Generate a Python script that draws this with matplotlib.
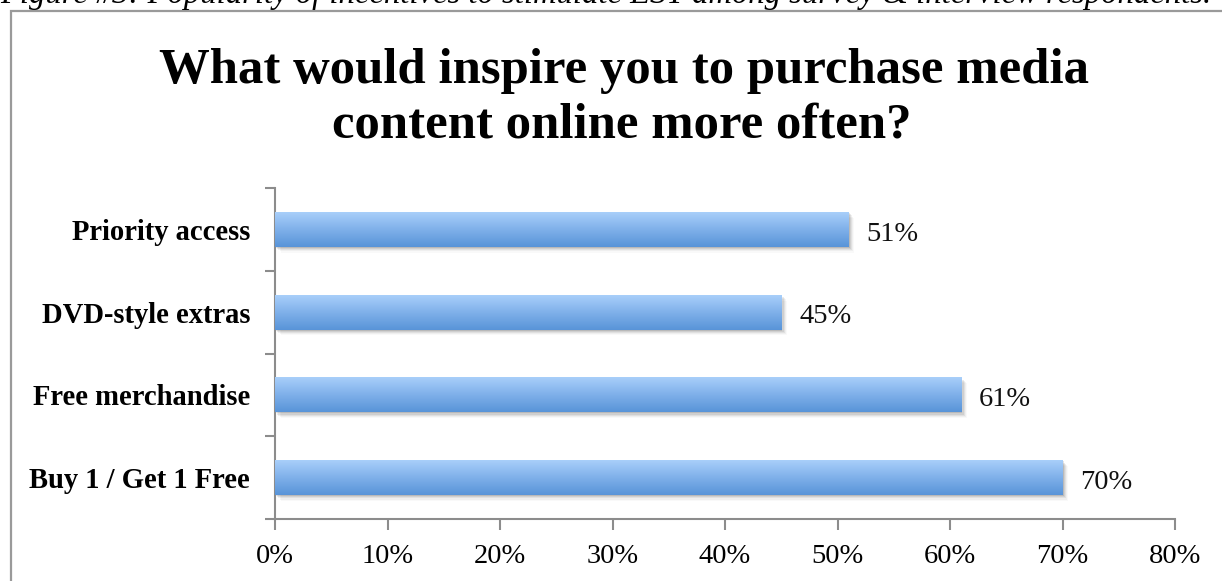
import matplotlib
matplotlib.use("Agg")
import matplotlib.pyplot as plt
import numpy as np
from matplotlib.patches import Rectangle
from matplotlib.colors import LinearSegmentedColormap

categories = ["Buy 1 / Get 1 Free", "Free merchandise", "DVD-style extras", "Priority access"]
values = [70, 61, 45, 51]
xticks = [0, 10, 20, 30, 40, 50, 60, 70, 80]
xtick_labels = ["0%", "10%", "20%", "30%", "40%", "50%", "60%", "70%", "80%"]
title_lines = ["What would inspire you to purchase media", "content online more often?"]
caption = "Figure #3: Popularity of incentives to stimulate EST among survey & interview respondents."

W, H = 1222, 581
fig = plt.figure(figsize=(W / 100, H / 100), dpi=100)
fig.patch.set_facecolor("white")

serif = "Liberation Serif"
grey = "#8c8c8c"

# caption (partly cut off at the top)
fig.text(0.0, 1 - 3 / H, caption, fontsize=23.5, fontstyle="italic", family=serif,
         ha="left", va="baseline", color="black")

# outer chart border
fig.add_artist(Rectangle((11 / W, -0.1), 1.2, (H - 11) / H + 0.1, transform=fig.transFigure,
                         fill=False, edgecolor="#9a9a9a", linewidth=1.6))

# title (two lines)
fig.text(624 / W, 1 - 83 / H, title_lines[0], fontsize=36.5, fontweight="bold", family=serif,
         ha="center", va="baseline", color="black")
fig.text(622 / W, 1 - 138 / H, title_lines[1], fontsize=36.5, fontweight="bold", family=serif,
         ha="center", va="baseline", color="black")

ax = fig.add_axes([275 / W, (H - 519) / H, (1175 - 275) / W, (519 - 188) / H])
y = np.arange(len(categories))
bars = ax.barh(y, values, height=0.42, color="none", edgecolor="none", zorder=3)

ax.set_xlim(0, 80)
ax.set_ylim(-0.5, len(categories) - 0.5)

grad = np.linspace(0, 1, 256).reshape(-1, 1)
cmap = LinearSegmentedColormap.from_list("bar", ["#5894d8", "#7fb0ea", "#a9cffa"])
for b, v in zip(bars, values):
    x0, y0, w, h = b.get_x(), b.get_y(), b.get_width(), b.get_height()
    # soft shadow
    for k, a in [(1, 0.10), (2, 0.08), (3, 0.06), (4, 0.04), (5, 0.025)]:
        ax.add_patch(Rectangle((x0 + 0.1 * k, y0 - 0.014 * k), w, h, facecolor="black",
                               alpha=a, edgecolor="none", zorder=2))
    ax.add_patch(Rectangle((x0, y0), w, h, facecolor="white", edgecolor="none", zorder=2.5))
    im = ax.imshow(grad, extent=(x0, x0 + w, y0, y0 + h), origin="lower", cmap=cmap,
                   aspect="auto", zorder=3, interpolation="bilinear")
    im.set_clip_path(b)
    ax.text(x0 + w + 1.6, y0 + h / 2 - 0.02, f"{v}%", fontsize=20.5,
            family=serif, va="center_baseline", ha="left", color="#111111", zorder=4)

ax.set_xlim(0, 80)
ax.set_ylim(-0.5, len(categories) - 0.5)

for s in ["top", "right"]:
    ax.spines[s].set_visible(False)
for s in ["left", "bottom"]:
    ax.spines[s].set_color(grey)
    ax.spines[s].set_linewidth(1.5)

ax.set_xticks(xticks)
ax.set_xticklabels(xtick_labels, fontsize=20.5, family=serif)
ax.set_yticks(y)
ax.set_yticklabels(categories, fontsize=20.6, family=serif, fontweight="bold")
ax.tick_params(axis="y", length=0, pad=18)
ax.set_yticks(np.arange(-0.5, len(categories), 1), minor=True)
ax.tick_params(axis="y", which="minor", length=7, width=1.5, color=grey, direction="out")
ax.tick_params(axis="x", length=8, width=1.5, color=grey, direction="out", pad=10)

fig.savefig("out.png", dpi=100, facecolor="white")
